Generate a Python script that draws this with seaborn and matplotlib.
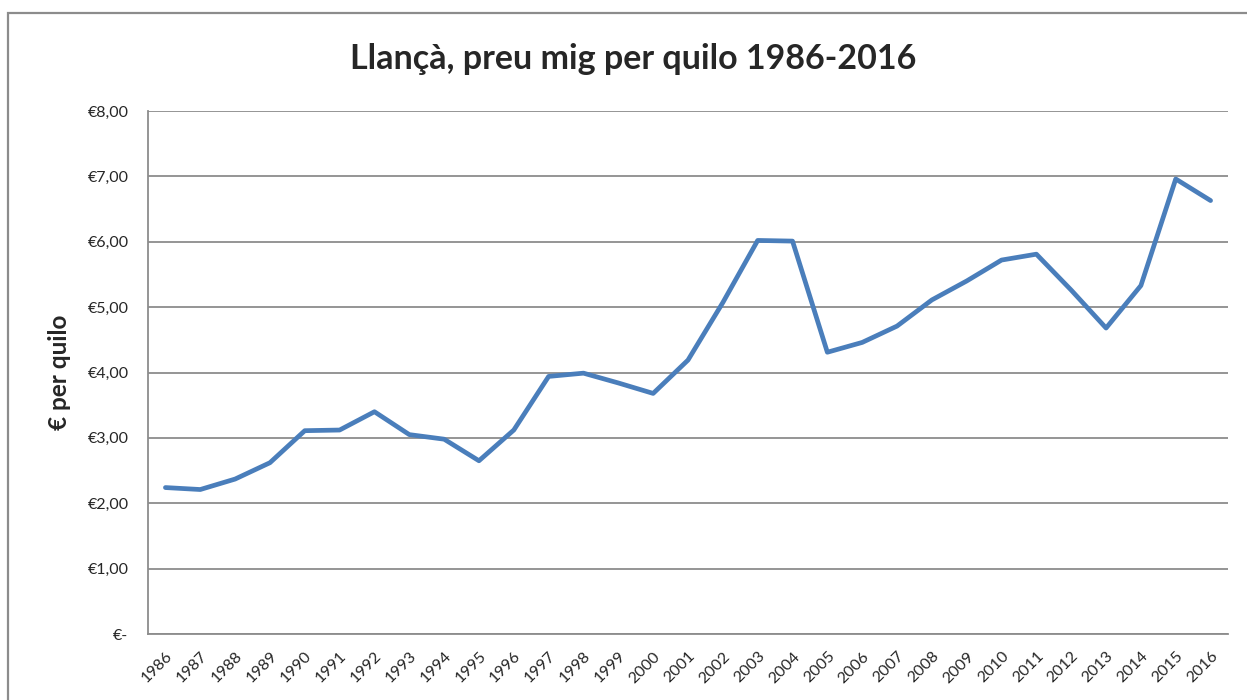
import matplotlib
matplotlib.use('Agg')
import matplotlib.pyplot as plt
import matplotlib.ticker as mticker
from matplotlib.patches import Rectangle
import numpy as np
import pandas as pd
import seaborn as sns

sns.set_style('white')
plt.rcParams['font.family'] = ['Lato', 'DejaVu Sans']

# data
years = list(range(1986, 2017))
prices = [2.24, 2.21, 2.37, 2.62, 3.11, 3.12, 3.40, 3.05, 2.98, 2.65,
          3.12, 3.94, 3.99, 3.84, 3.68, 4.19, 5.07, 6.02, 6.01, 4.31,
          4.46, 4.71, 5.11, 5.40, 5.72, 5.81, 5.26, 4.68, 5.33, 6.96,
          6.63]
title = 'Llançà, preu mig per quilo 1986-2016'
ylabel = '€ per quilo'

df = pd.DataFrame({'any': years, 'preu': prices})

fig = plt.figure(figsize=(12.47, 7.0), dpi=100)
ax = fig.add_axes([148 / 1247, 1 - 634 / 700, 1080 / 1247, 523 / 700])

sns.lineplot(data=df, x='any', y='preu', ax=ax, color='#4a7ebb',
             linewidth=3.4, solid_capstyle='round', solid_joinstyle='round')

grey = '#8c8c8c'
ax.set_xlim(years[0] - 0.5, years[-1] + 0.5)
ax.set_ylim(0, 8)
ax.yaxis.set_major_locator(mticker.MultipleLocator(1))


def euro(v, pos):
    if abs(v) < 1e-9:
        return '€-'
    return '€' + f'{v:.2f}'.replace('.', ',')


ax.yaxis.set_major_formatter(mticker.FuncFormatter(euro))
ax.set_xticks(years)
ax.set_xticklabels([str(y) for y in years], rotation=45, ha='right',
                   rotation_mode='anchor')
ax.set_xticks(np.arange(years[0] - 0.5, years[-1] + 1, 1), minor=True)
ax.tick_params(axis='x', which='major', length=0, pad=11, labelsize=11.5)
ax.tick_params(axis='x', which='minor', length=4, width=1.3, color=grey,
               direction='out')
ax.tick_params(axis='y', length=4, width=1.3, color=grey, direction='out',
               labelsize=11.5, pad=10)
ax.grid(axis='y', color=grey, linewidth=1.3)
ax.grid(axis='x', visible=False)
ax.set_axisbelow(True)
for s in ['top', 'right']:
    ax.spines[s].set_visible(False)
for s in ['left', 'bottom']:
    ax.spines[s].set_color(grey)
    ax.spines[s].set_linewidth(1.3)

ax.set_xlabel('')
ax.set_ylabel(ylabel, fontsize=17.5, fontweight='bold', labelpad=12)
fig.suptitle(title, fontsize=24.5, fontweight='bold', x=0.508,
             y=1 - 59 / 700, va='center')

fig.patches.append(Rectangle((8 / 1247, -0.02), 1.0, 1 - 13 / 700 + 0.02,
                             transform=fig.transFigure, fill=False,
                             edgecolor=grey, linewidth=1.6))

fig.savefig('out.png', dpi=100)
